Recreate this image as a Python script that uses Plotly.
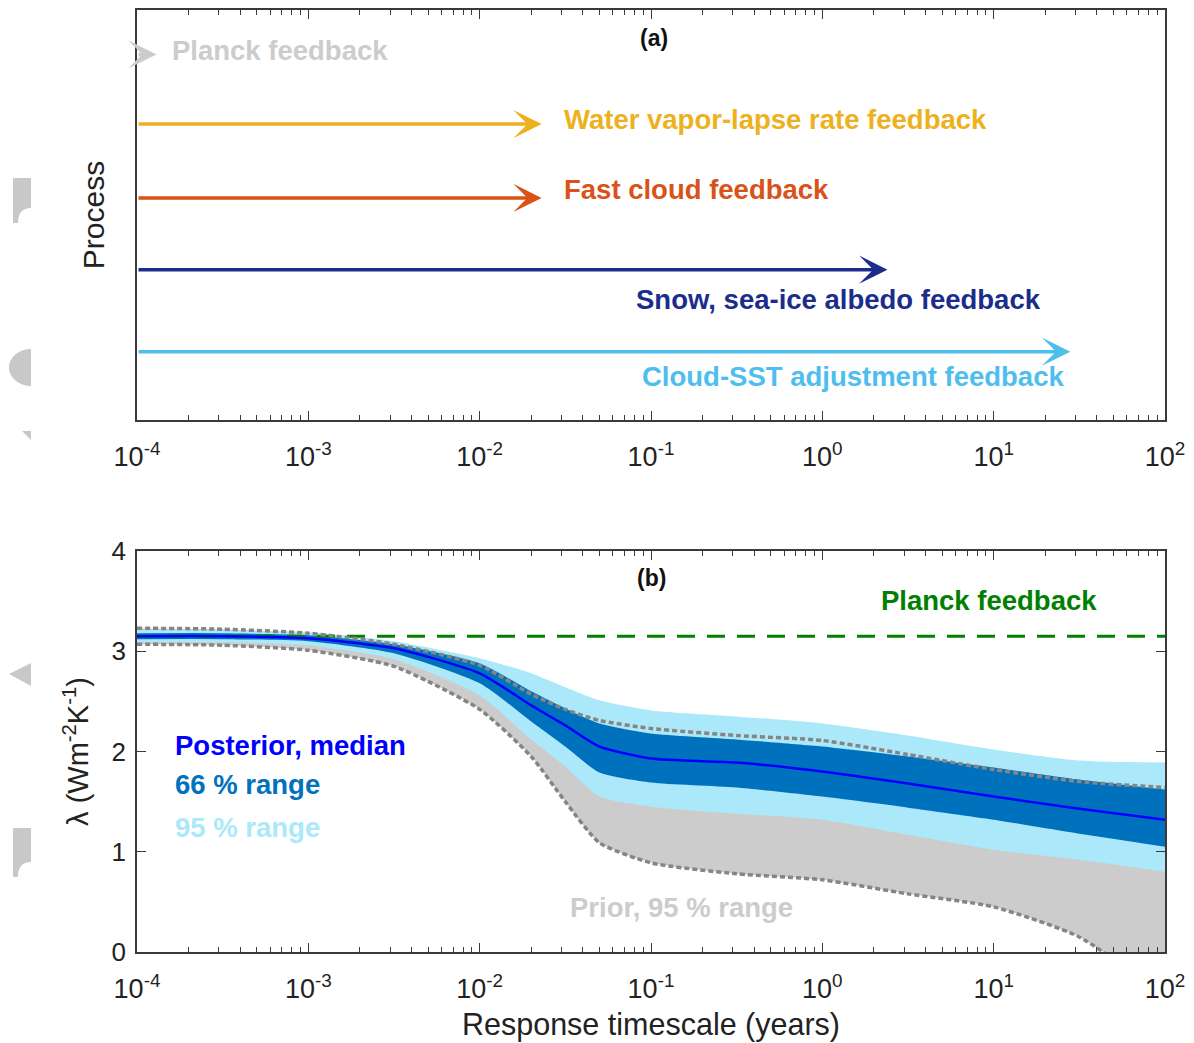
import math
import plotly.graph_objects as go

# ---------------- Panel (a) data ----------------
process_names = ["Planck feedback", "Water vapor-lapse rate feedback", "Fast cloud feedback",
                 "Snow, sea-ice albedo feedback", "Cloud-SST adjustment feedback"]
process_end_years = [1.3e-4, 0.023, 0.023, 2.4, 28.0]
process_rows = [5.35, 4.33, 3.25, 2.2, 1.0]
process_colors = ["#CCCCCC", "#EDB120", "#D95319", "#1C2C8C", "#4DBEEE"]

# ---------------- Panel (b) data ----------------
timescale = [1e-4, 3.16e-4, 1e-3, 3.16e-3, 1e-2, 2e-2, 3.16e-2, 5e-2, 1e-1, 3.16e-1, 1.0, 3.16, 10.0, 31.6, 100.0]
median = [3.15, 3.15, 3.13, 3.03, 2.78, 2.46, 2.26, 2.05, 1.93, 1.89, 1.80, 1.68, 1.55, 1.43, 1.32]
p66_hi = [3.18, 3.18, 3.16, 3.07, 2.88, 2.60, 2.43, 2.28, 2.18, 2.12, 2.05, 1.95, 1.84, 1.72, 1.62]
p66_lo = [3.12, 3.12, 3.10, 2.98, 2.68, 2.30, 2.05, 1.79, 1.69, 1.64, 1.55, 1.44, 1.32, 1.18, 1.05]
p95_hi = [3.21, 3.21, 3.19, 3.10, 2.93, 2.78, 2.64, 2.51, 2.41, 2.35, 2.28, 2.16, 2.02, 1.91, 1.89]
p95_lo = [3.09, 3.09, 3.06, 2.92, 2.56, 2.12, 1.85, 1.55, 1.45, 1.38, 1.32, 1.17, 1.02, 0.92, 0.80]
prior_hi = [3.23, 3.22, 3.18, 3.07, 2.86, 2.57, 2.42, 2.31, 2.23, 2.16, 2.11, 1.97, 1.82, 1.70, 1.64]
prior_lo = [3.07, 3.06, 3.01, 2.85, 2.42, 1.95, 1.50, 1.09, 0.89, 0.78, 0.72, 0.58, 0.45, 0.15, -0.45]
planck_value = 3.15

decade_vals = [1e-4, 1e-3, 1e-2, 1e-1, 1e0, 1e1, 1e2]
decade_text = ["10<sup>-4</sup>", "10<sup>-3</sup>", "10<sup>-2</sup>", "10<sup>-1</sup>",
               "10<sup>0</sup>", "10<sup>1</sup>", "10<sup>2</sup>"]
minor_vals = [k * 10.0 ** d for d in range(-4, 2) for k in range(2, 10)]

FONT = "Liberation Sans, Arial, Helvetica, sans-serif"
AX = "#3a3a3a"
SHAPE = "spline"

fig = go.Figure()

def band(hi, lo, color):
    fig.add_trace(go.Scatter(x=timescale, y=hi, mode="lines",
                             line=dict(width=0, color=color, shape=SHAPE, smoothing=0.6),
                             xaxis="x2", yaxis="y2", hoverinfo="skip", showlegend=False))
    fig.add_trace(go.Scatter(x=timescale, y=lo, mode="lines",
                             line=dict(width=0, color=color, shape=SHAPE, smoothing=0.6),
                             fill="tonexty", fillcolor=color,
                             xaxis="x2", yaxis="y2", hoverinfo="skip", showlegend=False))

band(prior_hi, prior_lo, "#CCCCCC")
band(p95_hi, p95_lo, "#ABE9FA")
band(p66_hi, p66_lo, "#0072BD")

fig.add_trace(go.Scatter(x=[timescale[0], timescale[-1]], y=[planck_value, planck_value], mode="lines",
                         line=dict(color="#008000", width=3, dash="18px,12px"),
                         xaxis="x2", yaxis="y2", showlegend=False))
fig.add_trace(go.Scatter(x=timescale, y=median, mode="lines",
                         line=dict(color="#0000FF", width=2.5, shape=SHAPE, smoothing=0.6),
                         xaxis="x2", yaxis="y2", showlegend=False))
for arr in (prior_hi, prior_lo):
    fig.add_trace(go.Scatter(x=timescale, y=arr, mode="lines",
                             line=dict(color="#858585", width=3.5, dash="5px,3px",
                                       shape=SHAPE, smoothing=0.6),
                             xaxis="x2", yaxis="y2", showlegend=False))

# invisible trace so panel (a) axes render
fig.add_trace(go.Scatter(x=[1e-4], y=[0], mode="markers", marker=dict(opacity=0),
                         xaxis="x", yaxis="y", showlegend=False, hoverinfo="skip"))

annotations = []
for end, row, col in zip(process_end_years, process_rows, process_colors):
    annotations.append(dict(xref="x", yref="y", axref="x", ayref="y",
                            x=math.log10(end), y=row, ax=-4, ay=row, text="",
                            showarrow=True, arrowhead=3, arrowsize=1.35, arrowwidth=3.5,
                            arrowcolor=col, standoff=0, startstandoff=0))

def label(text, x, y, color, xanchor="left", yref="y", xref="x", size=27.5):
    annotations.append(dict(xref=xref, yref=yref, x=x, y=y, text=text, showarrow=False,
                            xanchor=xanchor, yanchor="middle",
                            font=dict(family=FONT, size=size, color=color, weight="bold")))

label(process_names[0], -3.81, 5.41, process_colors[0])
label(process_names[1], -1.52, 4.40, process_colors[1])
label(process_names[2], -1.52, 3.38, process_colors[2])
label(process_names[3], 1.29, 1.76, process_colors[3], xanchor="right")
label(process_names[4], 1.42, 0.64, process_colors[4], xanchor="right")
label("(a)", -0.98, 5.59, "#111111", xanchor="center", size=23)

label("(b)", -1.0, 3.73, "#111111", xanchor="center", xref="x2", yref="y2", size=23)
label("Planck feedback", 0.974, 3.51, "#008000", xanchor="center", xref="x2", yref="y2")
label("Posterior, median", -3.79, 2.06, "#0000FF", xref="x2", yref="y2")
label("66 % range", -3.79, 1.67, "#0072BD", xref="x2", yref="y2")
label("95 % range", -3.79, 1.24, "#ABE9FA", xref="x2", yref="y2")
label("Prior, 95 % range", -0.824, 0.44, "#CCCCCC", xanchor="center", xref="x2", yref="y2")

xaxis_common = dict(type="log", range=[-4, 2], domain=[0, 1], tickmode="array",
                    tickvals=decade_vals, ticktext=decade_text, ticks="inside", ticklen=9,
                    tickwidth=1, tickcolor=AX,
                    minor=dict(tickmode="array", tickvals=minor_vals, ticks="inside", ticklen=5,
                               tickcolor=AX, showgrid=False),
                    showline=True, linecolor=AX, linewidth=1.5, mirror="ticks", showgrid=False,
                    zeroline=False, tickfont=dict(family=FONT, size=27, color="#222222"),
                    ticklabelstandoff=12, automargin=False)

# page is offset by the 8px body margin
OFF = 8
W, H = 1194 - OFF, 1043 - OFF
L, R = 137 - OFF, 1194 - 1165
T = 10 - OFF
B = H - (952 - OFF)
ph = H - T - B
pw = W - L - R

# decorative grey marks at the left edge of the reference (page pixel coords)
def px(x):
    return (x - 137) / pw

def py(y):
    return (952 - y) / ph

shapes = []
grey = "#C8C8C8"
shapes.append(dict(type="path", xref="paper", yref="paper", fillcolor=grey, line=dict(width=0),
                   path=f"M{px(13)},{py(178)} L{px(31)},{py(178)} L{px(31)},{py(208)} "
                        f"Q{px(18)},{py(208)} {px(18)},{py(223)} L{px(13)},{py(223)} Z"))
shapes.append(dict(type="path", xref="paper", yref="paper", fillcolor=grey, line=dict(width=0),
                   path=f"M{px(31)},{py(349)} C{px(18.9)},{py(349)} {px(9)},{py(357.3)} {px(9)},{py(367.5)} "
                        f"C{px(9)},{py(377.7)} {px(18.9)},{py(386)} {px(31)},{py(386)} Z"))
shapes.append(dict(type="path", xref="paper", yref="paper", fillcolor=grey, line=dict(width=0),
                   path=f"M{px(22)},{py(431)} L{px(31)},{py(431)} L{px(31)},{py(440)} Z"))
shapes.append(dict(type="path", xref="paper", yref="paper", fillcolor=grey, line=dict(width=0),
                   path=f"M{px(9)},{py(674)} L{px(31)},{py(663)} L{px(31)},{py(686)} Z"))
shapes.append(dict(type="path", xref="paper", yref="paper", fillcolor=grey, line=dict(width=0),
                   path=f"M{px(13)},{py(828)} L{px(31)},{py(828)} L{px(31)},{py(862)} "
                        f"Q{px(18)},{py(862)} {px(18)},{py(877)} L{px(13)},{py(877)} Z"))

fig.update_layout(
    width=W, height=H,
    margin=dict(l=L, r=R, t=T, b=B, autoexpand=False),
    paper_bgcolor="white", plot_bgcolor="white",
    font=dict(family=FONT, color="#222222"),
    showlegend=False,
    xaxis=dict(anchor="y", **xaxis_common),
    yaxis=dict(anchor="x", domain=[(952 - 420) / ph, 1], range=[0, 6], showticklabels=False,
               ticks="", showline=True, linecolor=AX, linewidth=1.5, mirror=True, showgrid=False,
               zeroline=False, automargin=False,
               title=dict(text="Process", font=dict(family=FONT, size=30, color="#222222"),
                          standoff=22)),
    xaxis2=dict(anchor="y2", **xaxis_common,
                title=dict(text="Response timescale (years)",
                           font=dict(family=FONT, size=30.5, color="#222222"), standoff=10)),
    yaxis2=dict(anchor="x2", domain=[0, (952 - 551) / ph], range=[0, 4],
                tickmode="array", tickvals=[0, 1, 2, 3, 4], ticks="inside", ticklen=9,
                tickcolor=AX, showline=True, linecolor=AX, linewidth=1.5, mirror="ticks",
                showgrid=False, zeroline=False, ticklabelstandoff=4, automargin=False,
                tickfont=dict(family=FONT, size=26, color="#222222"),
                title=dict(text="λ (Wm<sup>-2</sup>K<sup>-1</sup>)",
                           font=dict(family=FONT, size=29, color="#222222"), standoff=14)),
    annotations=annotations,
    shapes=shapes,
)

fig.write_html("out.html")
